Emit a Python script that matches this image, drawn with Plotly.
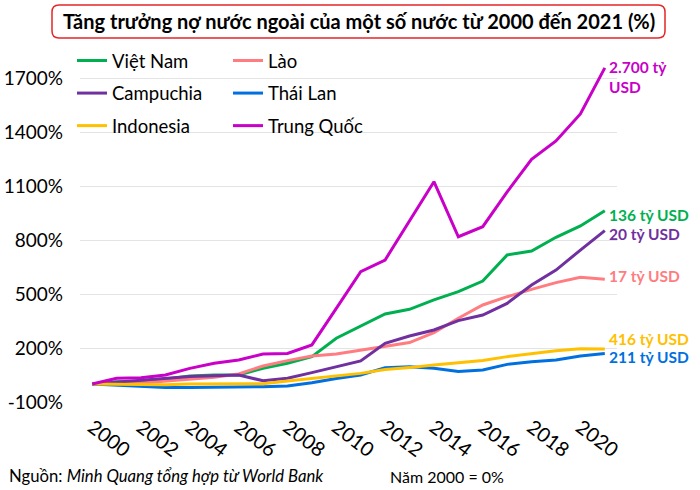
import plotly.graph_objects as go

years = list(range(2000, 2022))

viet_nam = [0, 13, 13, 26, 44, 50, 50, 87, 115, 152, 254, 322, 389, 415, 467, 513, 572, 717, 739, 815, 878, 963]
lao = [0, 5, 5, 15, 26, 37, 56, 100, 130, 155, 167, 189, 207, 230, 285, 365, 439, 485, 526, 563, 593, 582]
campuchia = [0, 10, 22, 32, 41, 46, 50, 18, 32, 63, 96, 128, 226, 267, 300, 352, 383, 448, 550, 633, 744, 852]
thai_lan = [0, -6, -15, -20, -20, -19, -15, -15, -11, 7, 31, 50, 91, 96, 87, 69, 78, 109, 124, 133, 156, 170]
indonesia = [0, -2, -6, -4, 0, 0, -2, 2, 17, 31, 44, 59, 81, 91, 106, 118, 130, 152, 170, 185, 196, 194]
trung_quoc = [0, 32, 35, 50, 87, 115, 133, 167, 170, 217, 420, 624, 689, 910, 1124, 818, 874, 1067, 1248, 1350, 1500, 1756]

series_names = ["Việt Nam", "Lào", "Campuchia", "Thái Lan", "Indonesia", "Trung Quốc"]
series_values = [viet_nam, lao, campuchia, thai_lan, indonesia, trung_quoc]
series_colors = ["#00b050", "#ff7c80", "#7030a0", "#0070e0", "#ffc000", "#c800c8"]
series_legend = ["legend", "legend2", "legend", "legend2", "legend", "legend2"]

end_labels = ["136 tỷ USD", "17 tỷ USD", "20 tỷ USD", "211 tỷ USD", "416 tỷ USD", "2.700 tỷ<br>USD"]
end_label_y = [939, 600, 833, 150, 250, 1705]

y_ticks = [-100, 200, 500, 800, 1100, 1400, 1700]
y_tick_text = ["-100%", "200%", "500%", "800%", "1100%", "1400%", "1700%"]
x_ticks = list(range(2000, 2021, 2))

FONT = "Lato"
W, H = 700, 490
ML, MR, MT, MB = 80, 83, 40, 88
PW, PH = W - ML - MR, H - MT - MB


def px_x(px):
    return (px - ML) / PW


def px_y(py):
    return 1 + (MT - py) / PH


fig = go.Figure()
for name, vals, col, lg in zip(series_names, series_values, series_colors, series_legend):
    fig.add_trace(go.Scatter(
        x=years, y=vals, name=name, mode="lines",
        line=dict(color=col, width=3),
        legend=lg, legendgroup=name,
        cliponaxis=False,
    ))

for text, yv, col in zip(end_labels, end_label_y, series_colors):
    fig.add_annotation(
        x=px_x(607), xref="paper", y=yv, yref="y",
        text=f"<b>{text}</b>", showarrow=False,
        xanchor="left", yanchor="middle", align="left",
        font=dict(family=FONT, size=15.5, color=col),
    )

# rounded title frame
bx0, bx1, by0, by1, r = 52, 665, 5, 38, 7
path = (
    f"M {px_x(bx0 + r)} {px_y(by0)} L {px_x(bx1 - r)} {px_y(by0)} "
    f"Q {px_x(bx1)} {px_y(by0)} {px_x(bx1)} {px_y(by0 + r)} "
    f"L {px_x(bx1)} {px_y(by1 - r)} Q {px_x(bx1)} {px_y(by1)} {px_x(bx1 - r)} {px_y(by1)} "
    f"L {px_x(bx0 + r)} {px_y(by1)} Q {px_x(bx0)} {px_y(by1)} {px_x(bx0)} {px_y(by1 - r)} "
    f"L {px_x(bx0)} {px_y(by0 + r)} Q {px_x(bx0)} {px_y(by0)} {px_x(bx0 + r)} {px_y(by0)} Z"
)
fig.add_shape(type="path", path=path, xref="paper", yref="paper",
              line=dict(color="#e5262a", width=1.5), fillcolor="white", layer="above")

fig.add_annotation(
    x=px_x((bx0 + bx1) / 2), xref="paper", y=px_y((by0 + by1) / 2), yref="paper",
    text="<b>Tăng trưởng nợ nước ngoài của một số nước từ 2000 đến 2021 (%)</b>",
    showarrow=False, xanchor="center", yanchor="middle",
    font=dict(family=FONT, size=20, color="#000000"),
)

fig.add_annotation(
    x=px_x(7), xref="paper", y=px_y(476), yref="paper",
    text="Nguồn: <i>Minh Quang tổng hợp từ World Bank</i>",
    showarrow=False, xanchor="left", yanchor="middle",
    font=dict(family=FONT, size=16.7, color="#000000"),
)
fig.add_annotation(
    x=px_x(388), xref="paper", y=px_y(476), yref="paper",
    text="Năm 2000 = 0%",
    showarrow=False, xanchor="left", yanchor="middle",
    font=dict(family=FONT, size=16, color="#000000"),
)

legend_common = dict(
    bgcolor="rgba(0,0,0,0)", orientation="v", xanchor="left", yanchor="top",
    font=dict(family=FONT, size=18.5, color="#000000"),
    tracegroupgap=5.5, itemwidth=30,
)
fig.update_layout(
    width=W, height=H,
    margin=dict(l=ML, r=MR, t=MT, b=MB, autoexpand=False),
    paper_bgcolor="white", plot_bgcolor="white",
    font=dict(family=FONT, color="#000000"),
    legend=dict(x=px_x(72), y=px_y(42), **legend_common),
    legend2=dict(x=px_x(228), y=px_y(42), **legend_common),
    xaxis=dict(
        range=[1999.5, 2021.5], tickmode="array", tickvals=x_ticks,
        tickangle=37, showgrid=False, zeroline=False, showline=False, automargin=False,
        tickfont=dict(family=FONT, size=20, color="#000000"), ticklabelstandoff=9,
    ),
    yaxis=dict(
        range=[-100, 1700 + (78 - MT) / 0.18], tickmode="array", tickvals=y_ticks, ticktext=y_tick_text,
        showgrid=True, gridcolor="#e3e3e3", gridwidth=1, zeroline=False, showline=False, automargin=False,
        tickfont=dict(family=FONT, size=19, color="#000000"), ticklabelstandoff=16,
    ),
)

fig.write_html(
    "out.html",
    config={"displayModeBar": False},
    post_script="document.body.style.margin='0';document.body.style.padding='0';",
)
